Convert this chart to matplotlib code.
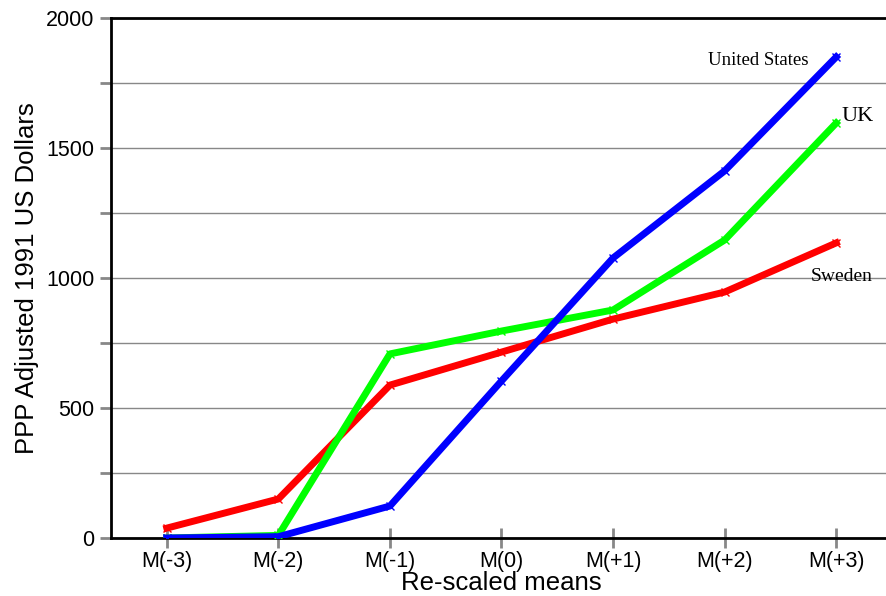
import matplotlib
matplotlib.use("Agg")
import matplotlib.pyplot as plt
from matplotlib.ticker import MultipleLocator

categories = ["M(-3)", "M(-2)", "M(-1)", "M(0)", "M(+1)", "M(+2)", "M(+3)"]
sweden = [38, 150, 588, 715, 842, 946, 1135]
uk = [0, 10, 708, 796, 877, 1146, 1596]
us = [0, 5, 123, 604, 1077, 1412, 1850]

fig = plt.figure(figsize=(8.86, 5.96), dpi=100)
ax = fig.add_axes([111/886, 1-538/596, (892-111)/886, (538-18)/596])
x = list(range(len(categories)))

ax.plot(x, sweden, color="#ff0000", lw=5, marker="x", ms=6, mew=1, zorder=3)
ax.plot(x, uk, color="#00ff00", lw=5, marker="x", ms=6, mew=1, zorder=4)
ax.plot(x, us, color="#0000ff", lw=5, marker="x", ms=6, mew=1, zorder=5)

ax.set_xlim(-0.5, 6.5)
ax.set_ylim(0, 2000)
ax.yaxis.set_major_locator(MultipleLocator(500))
ax.yaxis.set_minor_locator(MultipleLocator(250))
ax.set_xticks(x)
ax.set_xticklabels(categories, family="Liberation Sans", fontsize=15.5)
for lab in ax.get_yticklabels():
    lab.set_family("Liberation Sans")
    lab.set_fontsize(15.5)
ax.grid(True, axis="y", which="both", color="#888888", lw=1, zorder=0)
ax.tick_params(axis="y", which="both", direction="out", length=8, width=2, color="#888888", pad=4)
ax.tick_params(axis="x", which="major", direction="inout", length=14, width=2, color="#888888", pad=2)

for s in ["left", "top", "bottom"]:
    ax.spines[s].set_linewidth(2)
    ax.spines[s].set_color("black")
ax.spines["right"].set_visible(False)

ax.set_ylabel("PPP Adjusted 1991 US Dollars", family="Liberation Sans", fontsize=18.5, labelpad=5)
ax.set_xlabel("Re-scaled means", family="Liberation Sans", fontsize=18.5, labelpad=0)

ax.text(5.756, 1838, "United States", family="Liberation Serif", fontsize=13.5, ha="right", va="center")
ax.text(6.043, 1623, "UK", family="Liberation Serif", fontsize=16, ha="left", va="center")
ax.text(5.774, 1004, "Sweden", family="Liberation Serif", fontsize=14, ha="left", va="center")

fig.savefig("out.png", dpi=100)
